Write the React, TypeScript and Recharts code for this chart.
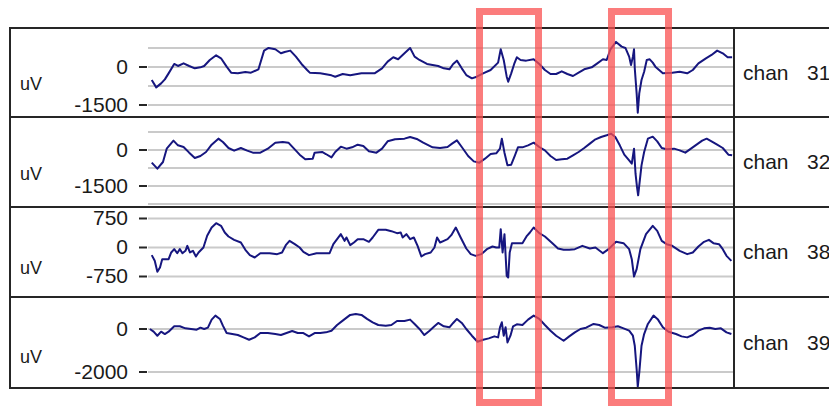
import React from 'react';
import { LineChart, Line, XAxis, YAxis, CartesianGrid } from 'recharts';

// sample positions (same time base for every channel, 0..1565) and values in uV
const chan31T = [10, 22, 35, 45, 55, 70, 80, 95, 110, 125, 140, 150, 165, 182, 195, 210, 222, 240, 260, 275, 295, 310, 322, 340, 355, 365, 380, 395, 410, 425, 432, 460, 490, 500, 520, 540, 570, 605, 625, 640, 655, 668, 685, 700, 712, 725, 745, 760, 775, 790, 805, 815, 825, 838, 850, 865, 878, 895, 915, 935, 942, 950, 958, 962, 970, 978, 985, 995, 1010, 1030, 1045, 1060, 1075, 1090, 1105, 1120, 1135, 1150, 1165, 1185, 1200, 1215, 1225, 1235, 1250, 1265, 1275, 1285, 1290, 1295, 1298, 1300, 1305, 1308, 1312, 1318, 1325, 1332, 1340, 1348, 1355, 1365, 1375, 1400, 1420, 1440, 1455, 1470, 1490, 1505, 1520, 1535, 1548, 1560];
const chan31V = [-515, -805, -647, -488, -251, 119, 40, 145, 40, -53, -13, 40, 277, 462, 343, 13, -224, -251, -198, -224, -92, 647, 752, 700, 541, 594, 647, 409, 119, -119, -224, -251, -330, -383, -277, -330, -251, -251, -53, 211, 383, 304, 541, 752, 409, 277, 119, 79, 40, -53, -92, 119, 251, -53, -317, -449, -383, -251, -119, 172, 700, 277, -383, -581, -251, 119, 383, 277, 251, 304, 119, -119, -277, -277, -172, -277, -356, -224, -92, -13, 145, 304, 277, 700, 990, 805, 752, 409, 79, 409, 700, -53, -1043, -1808, -1043, -515, -185, 277, 304, 172, 13, -119, -251, -224, -185, -251, -119, 145, 343, 475, 647, 541, 383, 383];

const chan32T = [10, 25, 40, 50, 68, 80, 95, 110, 125, 140, 155, 170, 188, 200, 215, 230, 248, 265, 280, 300, 320, 340, 360, 375, 390, 405, 420, 440, 445, 465, 475, 490, 500, 515, 530, 545, 560, 575, 590, 610, 625, 640, 660, 685, 700, 720, 735, 760, 780, 800, 812, 825, 838, 855, 870, 885, 900, 915, 930, 940, 945, 952, 960, 970, 980, 988, 1000, 1015, 1030, 1045, 1060, 1075, 1090, 1105, 1120, 1135, 1150, 1165, 1180, 1195, 1210, 1225, 1237, 1248, 1260, 1272, 1285, 1292, 1298, 1302, 1306, 1309, 1312, 1318, 1325, 1335, 1348, 1360, 1372, 1385, 1405, 1420, 1435, 1450, 1465, 1480, 1492, 1505, 1520, 1535, 1550, 1560];
const chan32V = [-528, -778, -500, 56, 389, 195, 125, -111, -334, -250, -83, 222, 473, 334, 83, -28, 83, -28, -111, -111, 56, 306, 334, 306, 56, -195, -389, -361, -111, -83, -167, -306, -83, 139, 56, 111, 222, 167, -56, -111, 56, 361, 445, 473, 542, 445, 306, 111, 83, 125, 264, 403, 125, -250, -473, -528, -361, -167, -139, 56, 473, -111, -639, -612, -222, 111, 111, 195, 306, 125, -14, -250, -417, -389, -361, -222, -83, 83, 264, 445, 542, 612, 681, 542, 195, -195, -431, -570, 56, -987, -1543, -1890, -1473, -639, -83, 473, 556, 361, 83, 28, 56, -14, -111, 56, 222, 389, 473, 361, 222, 83, -195, -222];

const chan38T = [10, 18, 25, 32, 38, 55, 62, 70, 78, 85, 92, 100, 105, 112, 120, 128, 135, 148, 158, 170, 182, 195, 205, 215, 230, 248, 260, 272, 285, 300, 325, 345, 358, 368, 378, 392, 405, 415, 430, 450, 485, 495, 505, 515, 525, 530, 540, 550, 560, 575, 590, 600, 615, 635, 650, 665, 675, 680, 690, 700, 710, 720, 730, 740, 755, 765, 772, 780, 790, 800, 810, 822, 835, 850, 862, 875, 890, 905, 920, 930, 938, 942, 947, 952, 958, 962, 966, 972, 985, 1000, 1012, 1020, 1030, 1045, 1060, 1080, 1095, 1110, 1125, 1140, 1160, 1180, 1195, 1215, 1230, 1250, 1270, 1285, 1292, 1298, 1305, 1315, 1330, 1348, 1360, 1372, 1385, 1400, 1420, 1440, 1455, 1470, 1485, 1498, 1510, 1525, 1535, 1545, 1558];
const chan38V = [-198, -345, -629, -517, -302, -302, -129, -43, -147, -43, -147, -86, 43, -129, -86, -233, -129, 0, 302, 517, 629, 560, 388, 284, 198, 129, -60, -198, -259, -147, -147, -172, -129, 60, 172, 86, 0, -112, -198, -147, -147, 86, 216, 345, 172, 259, 60, 129, 216, 216, 147, 259, 457, 457, 422, 371, 388, 259, 345, 216, 259, 43, -233, -172, -129, 0, 259, 129, 172, 216, 319, 517, 259, -26, -172, -216, -172, -43, 26, 0, 0, 474, -129, 345, -733, -776, -129, 112, 112, 112, 302, 388, 517, 371, 284, 112, -26, -60, -60, -43, 43, -26, 0, -147, -43, 147, 112, -43, -302, -750, -560, -43, 345, 560, 431, 172, 86, 43, -86, -172, -129, 26, 147, 198, 112, 86, -43, -216, -345];

const chan39T = [5, 15, 25, 35, 45, 55, 70, 85, 100, 115, 130, 140, 150, 160, 170, 180, 192, 200, 210, 225, 240, 255, 270, 285, 300, 320, 340, 355, 370, 385, 400, 415, 430, 445, 460, 475, 490, 505, 520, 540, 555, 570, 585, 600, 615, 635, 650, 665, 685, 700, 712, 725, 738, 752, 765, 775, 790, 805, 815, 825, 838, 850, 865, 880, 895, 910, 925, 935, 940, 945, 950, 955, 960, 968, 975, 985, 1000, 1015, 1030, 1045, 1060, 1075, 1090, 1110, 1125, 1140, 1155, 1170, 1190, 1205, 1220, 1240, 1255, 1270, 1285, 1295, 1300, 1305, 1308, 1312, 1318, 1325, 1335, 1350, 1362, 1375, 1390, 1410, 1425, 1440, 1455, 1470, 1485, 1500, 1515, 1530, 1545, 1558];
const chan39V = [0, -125, -312, -125, -234, -125, 125, 125, 31, 0, -31, 62, 0, 62, 437, 624, 468, 156, -187, -234, -281, -390, -499, -390, -187, -187, -234, -281, -187, -94, -187, -187, -343, -187, -187, -156, -78, 187, 390, 655, 702, 655, 468, 312, 187, 156, 187, 374, 374, 437, 234, 0, -281, -78, 125, 281, 125, 78, 281, 468, 281, 0, -312, -593, -499, -437, -343, -390, 78, 312, -312, 78, -624, -312, 125, 218, 187, 437, 624, 468, 187, -78, -312, -546, -343, -156, 0, 62, 234, 187, 62, 78, 125, 31, -78, -312, -780, -1872, -2683, -2028, -780, -234, 234, 624, 437, 78, -125, -234, -343, -390, -281, -78, 31, 62, 0, 31, -156, -234];

const channelNames = ['31', '32', '38', '39'];
const channelTimes = [chan31T, chan32T, chan38T, chan39T];
const channelValues = [chan31V, chan32V, chan38V, chan39V];
const channelDomains = [[-1975, 1540], [-2375, 1375], [-1280, 1047], [-2744, 1488]];
const gridTicks = [[750, 0, -750, -1500], [750, 0, -750, -1500, -2250], [750, 0, -750], [0, -2000]];
const labeledTicks = [[0, -1500], [0, -1500], [750, 0, -750], [0, -2000]];
const timeDomain = [0, 1565];

// marked windows (time base as above)
const highlightWindows = [[876, 1052], [1228, 1399]];

const rowTops = [28, 117, 207, 297, 388];
const unitOffsets = [56, 57, 61, 60];
const PLOT_LEFT = 148;
const PLOT_RIGHT = 734;
const FONT = '"Liberation Sans", Arial, sans-serif';
const LINE_COLOR = '#16167f';
const FRAME = '#262626';

const xOf = (t: number) => PLOT_LEFT + ((t - timeDomain[0]) / (timeDomain[1] - timeDomain[0])) * (PLOT_RIGHT - PLOT_LEFT);

const AxisTick = (props: any) => {
  const { x, y, payload, labeled } = props;
  if (!labeled.includes(payload.value)) return <g />;
  return (
    <g>
      <line x1={x + 11} x2={x + 19} y1={y} y2={y} stroke={FRAME} strokeWidth={2} />
      <text x={x} y={y} dy="0.33em" textAnchor="end" fontSize={21} fontFamily={FONT} fill="#1a1a1a">
        {payload.value}
      </text>
    </g>
  );
};

const hline = (top: number, left: number, width: number) => (
  <div key={`h${top}`} style={{ position: 'absolute', left, top: top - 1, width, height: 2, background: FRAME }} />
);

export default function App() {
  return (
    <div style={{ position: 'absolute', left: 0, top: 0, width: 829, height: 407, background: '#fff', overflow: 'hidden', fontFamily: FONT }}>
      {channelNames.map((name, i) => {
        const top = rowTops[i];
        const height = rowTops[i + 1] - top;
        const data = channelTimes[i].map((t, j) => ({ t, v: channelValues[i][j] }));
        return (
          <React.Fragment key={name}>
            <div style={{ position: 'absolute', left: 10, top }}>
              <LineChart width={PLOT_RIGHT - 10} height={height} data={data} margin={{ top: 0, right: 0, bottom: 0, left: 0 }}>
                <CartesianGrid vertical={false} stroke="#cacaca" strokeWidth={2} />
                <XAxis dataKey="t" type="number" domain={timeDomain} hide />
                <YAxis
                  type="number"
                  domain={channelDomains[i]}
                  ticks={gridTicks[i]}
                  interval={0}
                  width={PLOT_LEFT - 10}
                  axisLine={false}
                  tickLine={false}
                  tickSize={8}
                  tickMargin={12}
                  tick={(p: any) => <AxisTick {...p} labeled={labeledTicks[i]} />}
                />
                <Line
                  type="linear"
                  dataKey="v"
                  stroke={LINE_COLOR}
                  strokeWidth={2}
                  strokeLinejoin="round"
                  dot={false}
                  isAnimationActive={false}
                />
              </LineChart>
            </div>
            <div style={{ position: 'absolute', left: 20, top: top + unitOffsets[i] - 11, fontSize: 18, lineHeight: '22px', color: '#1a1a1a' }}>
              uV
            </div>
            <div style={{ position: 'absolute', left: 743, top: top + height / 2 - 12, fontSize: 21, lineHeight: '24px', color: '#1a1a1a', whiteSpace: 'pre' }}>
              {'chan'}
              <span style={{ position: 'absolute', left: 64 }}>{name}</span>
            </div>
          </React.Fragment>
        );
      })}

      {/* frame */}
      {rowTops.map((y) => hline(y, 9, 820))}
      <div style={{ position: 'absolute', left: 9, top: 27, width: 2, height: 362, background: FRAME }} />
      <div style={{ position: 'absolute', left: 733, top: 27, width: 2, height: 362, background: FRAME }} />

      {/* highlighted windows */}
      {highlightWindows.map(([a, b]) => (
        <div
          key={a}
          style={{
            position: 'absolute',
            left: xOf(a),
            top: 8,
            width: xOf(b) - xOf(a),
            height: 398,
            boxSizing: 'border-box',
            border: '7px solid rgba(250, 80, 80, 0.75)',
          }}
        />
      ))}
    </div>
  );
}
